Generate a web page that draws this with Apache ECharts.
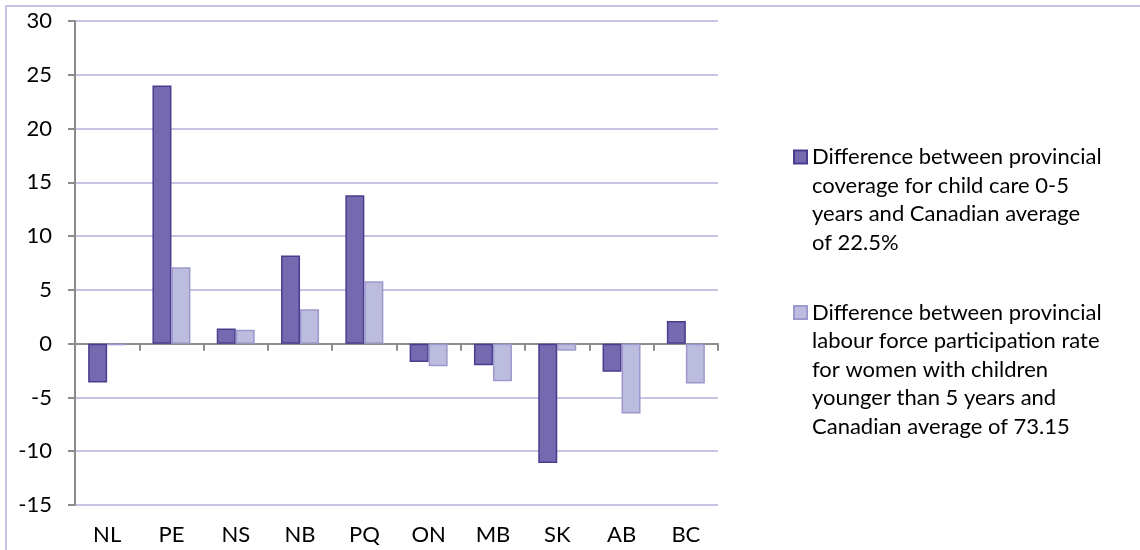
<!DOCTYPE html>
<html>
<head>
<meta charset="utf-8">
<script src="https://cdn.jsdelivr.net/npm/echarts@6/dist/echarts.min.js"></script>
<style>
  html, body { margin: 0; padding: 0; background: #fff; }
  #chart { width: 1140px; height: 550px; }
</style>
</head>
<body>
<div id="chart"></div>
<script>
// provinces
const provinces = ['NL', 'PE', 'NS', 'NB', 'PQ', 'ON', 'MB', 'SK', 'AB', 'BC']

// difference from Canadian average, child care coverage 0-5 (22.5%)
const childCare = [-3.6, 24.0, 1.4, 8.2, 13.8, -1.7, -2.0, -11.1, -2.6, 2.1]
// difference from Canadian average, labour force participation (73.15)
const labourForce = [-0.15, 7.1, 1.3, 3.2, 5.8, -2.1, -3.5, -0.65, -6.5, -3.7]

const seriesNames = [
  'Difference between provincial\ncoverage for child care 0-5\nyears and Canadian average\nof 22.5%',
  'Difference between provincial\nlabour force participation rate\nfor women with children\nyounger than 5 years and\nCanadian average of 73.15'
]

const font = 'Lato, sans-serif'
const lineH = 28.5

const chart = echarts.init(document.getElementById('chart'))

// blank lines in front of the text so the icon sits beside the first line
function legendFor(name, iconMid) {
  const lines = name.split('\n').length
  return {
    orient: 'vertical',
    left: 793,
    top: iconMid - (2 * lines - 1) * lineH / 2,
    padding: 0,
    icon: 'rect',
    itemWidth: 13,
    itemHeight: 13,
    itemGap: 0,
    selectedMode: false,
    data: [name],
    formatter: n => '\n'.repeat(lines - 1) + n,
    textStyle: {
      fontFamily: font,
      fontSize: 22,
      color: '#000',
      lineHeight: lineH
    }
  }
}

chart.setOption({
  animation: false,
  graphic: [{
    type: 'rect',
    shape: { x: 6, y: 6, width: 1200, height: 600 },
    style: { fill: 'none', stroke: '#c4c4e6', lineWidth: 2 },
    silent: true
  }],
  grid: { left: 75, top: 21, right: 422, bottom: 45 },
  legend: [legendFor(seriesNames[0], 157), legendFor(seriesNames[1], 312.5)],
  xAxis: [
    {
      type: 'category',
      data: provinces,
      position: 'bottom',
      axisLine: { show: false, onZero: false },
      axisTick: { show: false },
      axisLabel: { margin: 19, fontFamily: font, fontSize: 22, color: '#000' }
    },
    {
      type: 'category',
      data: provinces,
      position: 'top',
      axisLine: { show: true, onZero: true, lineStyle: { color: '#8c8c8c', width: 2 } },
      axisTick: { show: true, inside: true, length: 7, lineStyle: { color: '#8c8c8c', width: 2 } },
      axisLabel: { show: false }
    }
  ],
  yAxis: {
    type: 'value',
    min: -15,
    max: 30,
    interval: 5,
    axisLine: { show: true, lineStyle: { color: '#8c8c8c', width: 2 } },
    axisTick: { show: true, length: 7, lineStyle: { color: '#8c8c8c', width: 2 } },
    axisLabel: { margin: 23, fontFamily: font, fontSize: 22, color: '#000' },
    splitLine: { lineStyle: { color: '#c4c4e4', width: 2 } }
  },
  series: [
    {
      name: seriesNames[0],
      type: 'bar',
      data: childCare,
      barWidth: 19,
      barGap: '0%',
      itemStyle: { color: '#7569b0', borderColor: '#4a3d8f', borderWidth: 1.5 }
    },
    {
      name: seriesNames[1],
      type: 'bar',
      data: labourForce,
      barWidth: 19,
      barGap: '0%',
      itemStyle: { color: '#bcbcde', borderColor: '#9d99cc', borderWidth: 1.5 }
    }
  ]
})
</script>
</body>
</html>
